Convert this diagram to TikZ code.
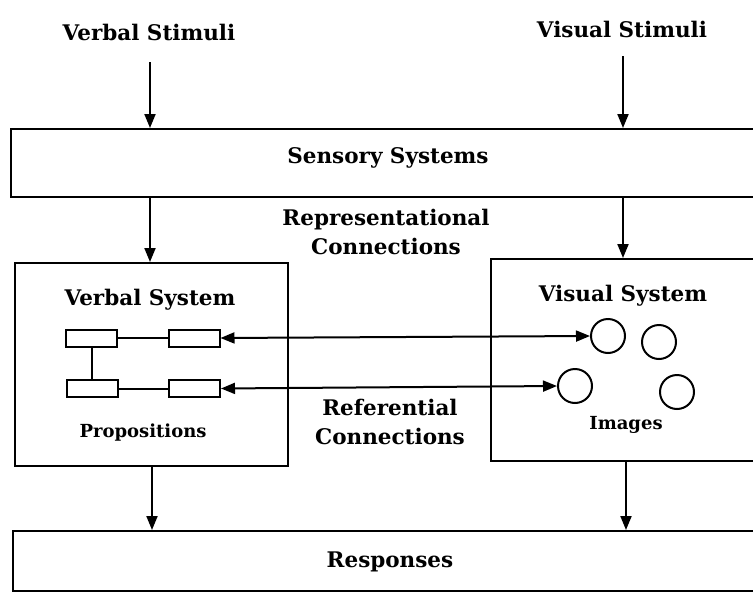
\documentclass[tikz,border=0pt]{standalone}
\usepackage{fontspec}
\setmainfont{DejaVu Serif}
\usetikzlibrary{arrows.meta}
\begin{document}
\begin{tikzpicture}[x=1pt,y=-1pt,
  lbl/.style={font=\fontsize{21.5}{29.5}\selectfont\bfseries, align=center, inner sep=0pt},
  sml/.style={font=\fontsize{18}{26}\selectfont\bfseries, inner sep=0pt},
  box/.style={draw, line width=2.2pt},
  prop/.style={draw, line width=2pt, minimum width=51pt, minimum height=17pt, inner sep=0pt},
  img/.style={draw, circle, line width=2pt, minimum size=34pt, inner sep=0pt},
  arr/.style={line width=2pt, -{Triangle[length=14pt,width=11pt]}},
  darr/.style={line width=2pt, {Triangle[length=14pt,width=11pt]}-{Triangle[length=14pt,width=11pt]}},
  ln/.style={line width=2pt}]
\clip (0,0) rectangle (753,592);
\fill[white] (0,0) rectangle (753,592);
% boxes
\node[box, minimum width=760pt, minimum height=68pt, anchor=north west] (sensory) at (10,128) {};
\node[box, minimum width=760pt, minimum height=60pt, anchor=north west] (resp) at (12,530) {};
\node[box, minimum width=273pt, minimum height=203pt, anchor=north west] (verbal) at (14,262) {};
\node[box, minimum width=300pt, minimum height=202pt, anchor=north west] (visual) at (490,258) {};
% labels
\node[lbl] (vstim) at (149,32) {Verbal Stimuli};
\node[lbl] (istim) at (622,29) {Visual Stimuli};
\node[lbl] (senslbl) at (388,158) {Sensory Systems};
\node[lbl] (repr) at (386,232) {Representational\\Connections};
\node[lbl] (verblbl) at (150,300) {Verbal System};
\node[lbl] (vislbl) at (623,296) {Visual System};
\node[lbl] (refer) at (390,422) {Referential\\Connections};
\node[lbl] (resplbl) at (390,562) {Responses};
\node[sml] (proplbl) at (143,433) {Propositions};
\node[sml] (imglbl) at (626,425) {Images};
% coordinates for vertical arrows
\coordinate (a1) at (150,62);
\coordinate (a2) at (623,56);
\coordinate (b1) at (150,196);
\coordinate (b2) at (623,196);
\coordinate (c1) at (152,465);
\coordinate (c2) at (626,460);
\draw[arr] (a1) -- (a1 |- sensory.north);
\draw[arr] (a2) -- (a2 |- sensory.north);
\draw[arr] (b1) -- (b1 |- verbal.north);
\draw[arr] (b2) -- (b2 |- visual.north);
\draw[arr] (c1) -- (c1 |- resp.north);
\draw[arr] (c2) -- (c2 |- resp.north);
% propositions
\node[prop] (p1) at (91.5,338) {};
\node[prop] (p2) at (194,338) {};
\node[prop] (p3) at (92,388.5) {};
\node[prop] (p4) at (194.5,388.5) {};
\draw[ln] (p1) -- (p2);
\draw[ln] (p3) -- (p4);
\draw[ln] (p1.south -| 92,0) -- (p3.north -| 92,0);
% images
\node[img] (i1) at (608,336) {};
\node[img] (i2) at (659,342) {};
\node[img] (i3) at (575,386) {};
\node[img] (i4) at (677,392) {};
\draw[darr] (p2.east) -- (i1.west);
\draw[darr] (p4.east) -- (i3.west);
\end{tikzpicture}
\end{document}
